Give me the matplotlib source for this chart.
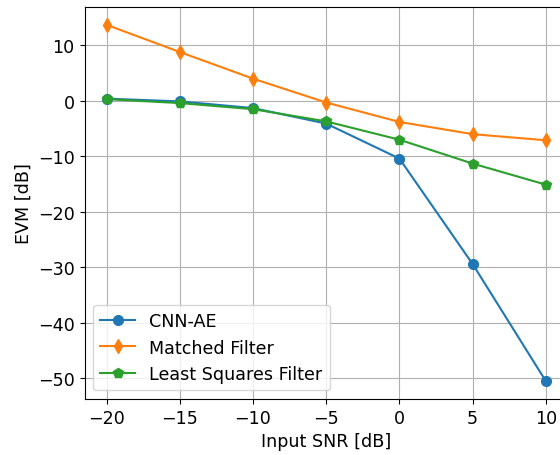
import numpy as np
import matplotlib
matplotlib.use("Agg")
import matplotlib.pyplot as plt

snr = [-20, -15, -10, -5, 0, 5, 10]
evm_cnn = [0.4, -0.1, -1.3, -4.1, -10.4, -29.4, -50.5]
evm_matched = [13.7, 8.8, 4.0, -0.3, -3.8, -6.0, -7.1]
evm_ls = [0.3, -0.4, -1.5, -3.7, -7.0, -11.3, -15.1]

plt.rcParams['font.size'] = 12.6

fig = plt.figure(figsize=(5.6, 4.56), dpi=100)
ax = fig.add_axes([0.151, 0.1228, 0.863, 0.8597])
ax.plot(snr, evm_cnn, marker='o', markersize=7, label='CNN-AE')
ax.plot(snr, evm_matched, marker='d', markersize=7.5, label='Matched Filter')
ax.plot(snr, evm_ls, marker='p', markersize=7.5, label='Least Squares Filter')
ax.set_xlabel('Input SNR [dB]')
ax.set_ylabel('EVM [dB]')
ax.set_xticks(snr)
ax.grid(True)
ax.legend(loc='lower left')
fig.savefig('out.png', dpi=100)
